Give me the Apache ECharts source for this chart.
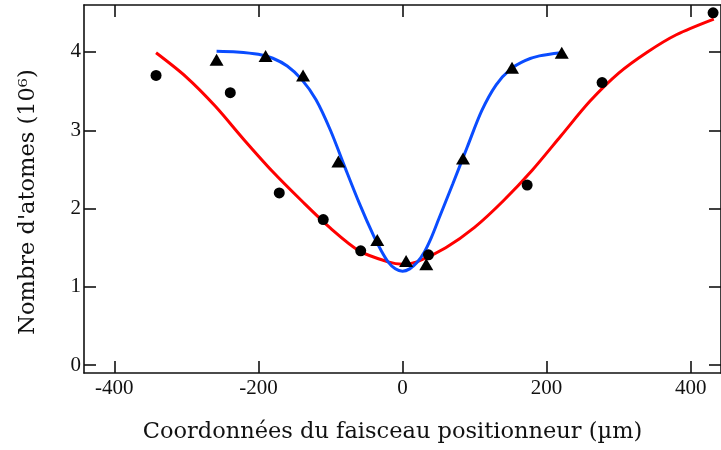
<!DOCTYPE html>
<html>
<head>
<meta charset="utf-8">
<script src="https://cdn.jsdelivr.net/npm/echarts@6/dist/echarts.min.js"></script>
<style>html,body{margin:0;padding:0;background:#fff}#c{width:721px;height:450px}</style>
</head>
<body>
<div id="c"></div>
<script>
const xTicks = [-400, -200, 0, 200, 400];
const yTicks = [0, 1, 2, 3, 4];

const circleX = [-342, -239, -171, -110, -58, 36, 173, 277, 431];
const circleY = [3.70, 3.48, 2.20, 1.86, 1.46, 1.41, 2.30, 3.61, 4.50];

const triangleX = [-258, -190, -138, -89, -35, 5, 33, 84, 152, 221];
const triangleY = [3.90, 3.95, 3.70, 2.60, 1.60, 1.33, 1.29, 2.64, 3.80, 3.99];

const redFitX = [-342, -300, -260, -220, -180, -140, -100, -60, -20, 0, 20, 60, 100, 140, 180, 220, 260, 300, 340, 380, 432];
const redFitY = [3.99, 3.68, 3.31, 2.88, 2.47, 2.10, 1.75, 1.46, 1.32, 1.29, 1.32, 1.50, 1.76, 2.10, 2.49, 2.93, 3.37, 3.73, 4.00, 4.22, 4.42];

const blueFitX = [-258, -230, -200, -180, -160, -140, -120, -100, -80, -60, -40, -30, -20, -10, 0, 10, 20, 30, 40, 50, 70, 90, 110, 130, 150, 170, 190, 220];
const blueFitY = [4.01, 4.00, 3.97, 3.92, 3.82, 3.65, 3.39, 3.00, 2.53, 2.07, 1.65, 1.47, 1.32, 1.23, 1.20, 1.23, 1.31, 1.44, 1.63, 1.86, 2.32, 2.79, 3.25, 3.58, 3.78, 3.89, 3.95, 3.99];

const zip = (a, b) => a.map((v, i) => [v, b[i]]);
const TICKFONT = '"Liberation Serif", "DejaVu Serif", serif';
const NAMEFONT = '"DejaVu Serif", "Liberation Serif", serif';
const INK = '#111';

const chart = echarts.init(document.getElementById('c'), null, {renderer: 'canvas'});

const axisLineStyle = {show: true, onZero: false, lineStyle: {color: INK, width: 1.6}};
const tickStyle = (vals) => ({show: true, inside: true, length: 12, customValues: vals, lineStyle: {color: INK, width: 1.6}});

chart.setOption({
  animation: false,
  backgroundColor: '#fff',
  grid: {left: 84, right: -4, top: 5, bottom: 77, containLabel: false},
  xAxis: [
    {
      type: 'value', position: 'bottom', min: -442, max: 442,
      axisLine: axisLineStyle, axisTick: tickStyle(xTicks), splitLine: {show: false},
      axisLabel: {customValues: xTicks, margin: 5, color: INK, fontFamily: TICKFONT, fontSize: 21},
      name: 'Coordonnées du faisceau positionneur (µm)', nameLocation: 'middle', nameGap: 48,
      nameTextStyle: {color: INK, fontFamily: NAMEFONT, fontSize: 22.5, padding: [0, 20, 0, 0]}
    },
    {
      type: 'value', position: 'top', min: -442, max: 442,
      axisLine: axisLineStyle, axisTick: tickStyle(xTicks), splitLine: {show: false},
      axisLabel: {show: false}
    }
  ],
  yAxis: [
    {
      type: 'value', position: 'left', min: -0.1, max: 4.6,
      axisLine: axisLineStyle, axisTick: tickStyle(yTicks), splitLine: {show: false},
      axisLabel: {customValues: yTicks, margin: 3, color: INK, fontFamily: TICKFONT, fontSize: 21},
      name: "Nombre d'atomes (10⁶)", nameLocation: 'middle', nameGap: 44, nameRotate: 90,
      nameTextStyle: {color: INK, fontFamily: NAMEFONT, fontSize: 22.5, padding: [0, 26, 0, 0]}
    },
    {
      type: 'value', position: 'right', min: -0.1, max: 4.6,
      axisLine: axisLineStyle, axisTick: tickStyle(yTicks), splitLine: {show: false},
      axisLabel: {show: false}
    }
  ],
  series: [
    {
      type: 'line', data: zip(redFitX, redFitY), smooth: 0.3, showSymbol: false,
      lineStyle: {color: '#ff0000', width: 3}, z: 2
    },
    {
      type: 'line', data: zip(blueFitX, blueFitY), smooth: 0.3, showSymbol: false,
      lineStyle: {color: '#0a4cff', width: 3}, z: 2
    },
    {
      type: 'scatter', data: zip(circleX, circleY), symbol: 'circle', symbolSize: 11,
      itemStyle: {color: '#000', opacity: 1}, z: 3
    },
    {
      type: 'scatter', data: zip(triangleX, triangleY), symbol: 'triangle', symbolSize: [14, 12],
      itemStyle: {color: '#000', opacity: 1}, z: 3
    }
  ]
});
</script>
</body>
</html>
